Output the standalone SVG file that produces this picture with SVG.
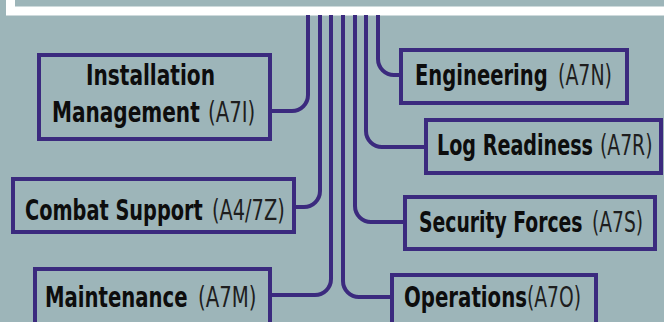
<svg xmlns="http://www.w3.org/2000/svg" width="664" height="322" viewBox="0 0 664 322">
  <style>
    .box { fill: none; stroke: #3b2a7e; stroke-width: 4; }
    .wire { fill: none; stroke: #3b2a7e; stroke-width: 4; }
    .b, .r { font-family: "Liberation Sans Narrow", "DejaVu Sans Condensed", "Liberation Sans", sans-serif; font-size: 28px; }
    .b { font-weight: bold; fill: #0d0d0d; }
    .r { font-weight: normal; fill: #1e1e1e; }
  </style>

  <!-- background -->
  <rect x="0" y="0" width="664" height="322" fill="#9db5b9"/>

  <!-- header panel (mostly above the visible area) -->
  <g id="header">
    <text class="b" transform="translate(384,-6) scale(0.75,1)" style="font-size:30px">Support</text>
    <text class="r" transform="translate(484,-6) scale(0.75,1)" style="font-size:30px" textLength="80" lengthAdjust="spacingAndGlyphs">(A4/7)</text>
    <rect x="10.5" y="-50" width="700" height="61" fill="none" stroke="#ffffff" stroke-width="9"/>
  </g>

  <!-- connectors from the header down to each office -->
  <g id="connectors">
    <path class="wire" d="M308 15 V95 A16 16 0 0 1 292 111 H271"/>
    <path class="wire" d="M320 15 V191 A16 16 0 0 1 304 207 H295"/>
    <path class="wire" d="M331 15 V279 A16 16 0 0 1 315 295 H271"/>
    <path class="wire" d="M343 15 V281 A16 16 0 0 0 359 297 H392"/>
    <path class="wire" d="M355 15 V206 A16 16 0 0 0 371 222 H405"/>
    <path class="wire" d="M366 15 V131 A16 16 0 0 0 382 147 H426"/>
    <path class="wire" d="M378 15 V59 A16 16 0 0 0 394 75 H401"/>
  </g>

  <g id="installation">
    <rect class="box" x="39" y="55" width="231" height="84"/>
    <text class="b" transform="translate(86,85) scale(0.75,1)" textLength="172" lengthAdjust="spacingAndGlyphs">Installation</text>
    <text class="b" transform="translate(52,122) scale(0.75,1)" textLength="197" lengthAdjust="spacingAndGlyphs">Management</text>
    <text class="r" transform="translate(208,122) scale(0.75,1)" textLength="63" lengthAdjust="spacingAndGlyphs">(A7I)</text>
  </g>

  <g id="engineering">
    <rect class="box" x="401" y="50" width="226" height="53"/>
    <text class="b" transform="translate(415,85) scale(0.75,1)" textLength="177" lengthAdjust="spacingAndGlyphs">Engineering</text>
    <text class="r" transform="translate(558,85) scale(0.75,1)" textLength="72" lengthAdjust="spacingAndGlyphs">(A7N)</text>
  </g>

  <g id="log-readiness">
    <rect class="box" x="426" y="120" width="235" height="53"/>
    <text class="b" transform="translate(437,155) scale(0.75,1)" textLength="208" lengthAdjust="spacingAndGlyphs">Log Readiness</text>
    <text class="r" transform="translate(600,155) scale(0.75,1)" textLength="70" lengthAdjust="spacingAndGlyphs">(A7R)</text>
  </g>

  <g id="combat-support">
    <rect class="box" x="13" y="179" width="281" height="53"/>
    <text class="b" transform="translate(25,220) scale(0.75,1)" textLength="237" lengthAdjust="spacingAndGlyphs">Combat Support</text>
    <text class="r" transform="translate(212,220) scale(0.75,1)" textLength="97" lengthAdjust="spacingAndGlyphs">(A4/7Z)</text>
  </g>

  <g id="security-forces">
    <rect class="box" x="405" y="197" width="250" height="52"/>
    <text class="b" transform="translate(419,232) scale(0.75,1)" textLength="218" lengthAdjust="spacingAndGlyphs">Security Forces</text>
    <text class="r" transform="translate(592,232) scale(0.75,1)" textLength="68" lengthAdjust="spacingAndGlyphs">(A7S)</text>
  </g>

  <g id="maintenance">
    <rect class="box" x="35" y="269" width="235" height="80"/>
    <text class="b" transform="translate(45,307) scale(0.75,1)" textLength="190" lengthAdjust="spacingAndGlyphs">Maintenance</text>
    <text class="r" transform="translate(198,307) scale(0.75,1)" textLength="78" lengthAdjust="spacingAndGlyphs">(A7M)</text>
  </g>

  <g id="operations">
    <rect class="box" x="392" y="275" width="204" height="80"/>
    <text class="b" transform="translate(404,307) scale(0.75,1)" textLength="164" lengthAdjust="spacingAndGlyphs">Operations</text>
    <text class="r" transform="translate(527,307) scale(0.75,1)" textLength="72" lengthAdjust="spacingAndGlyphs">(A7O)</text>
  </g>
</svg>
